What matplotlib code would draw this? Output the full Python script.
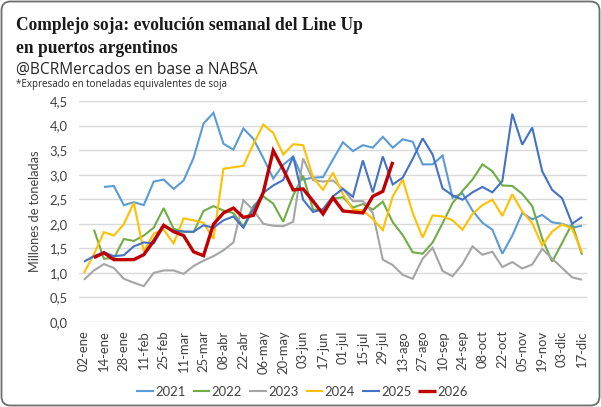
import numpy as np
import matplotlib
matplotlib.use("Agg")
import matplotlib.pyplot as plt
from matplotlib.patches import FancyBboxPatch
from matplotlib.transforms import IdentityTransform

nan = np.nan

categories = ["02-ene", "07-ene", "14-ene", "21-ene", "28-ene", "04-feb", "11-feb", "18-feb",
              "25-feb", "04-mar", "11-mar", "18-mar", "25-mar", "01-abr", "08-abr", "15-abr",
              "22-abr", "29-abr", "06-may", "13-may", "20-may", "27-may", "03-jun", "10-jun",
              "17-jun", "24-jun", "01-jul", "08-jul", "15-jul", "22-jul", "29-jul", "05-ago",
              "13-ago", "20-ago", "27-ago", "03-sep", "10-sep", "17-sep", "24-sep", "01-oct",
              "08-oct", "15-oct", "22-oct", "29-oct", "05-nov", "12-nov", "19-nov", "26-nov",
              "03-dic", "10-dic", "17-dic"]

y2021 = [nan, nan, 2.75, 2.77, 2.38, 2.44, 2.38, 2.86, 2.90, 2.71, 2.88, 3.34, 4.04, 4.26,
         3.63, 3.51, 3.94, 3.73, 3.34, 2.92, 3.20, 3.37, 2.90, 2.94, 2.95, 3.31, 3.66, 3.48,
         3.60, 3.55, 3.77, 3.55, 3.72, 3.67, 3.21, 3.21, 3.39, 2.53, 2.62, 2.27, 2.02, 1.88,
         1.39, 1.76, 2.22, 2.09, 2.18, 2.03, 2.00, 1.92, 1.96]
y2022 = [nan, 1.88, 1.29, 1.30, 1.69, 1.65, 1.76, 1.92, 2.32, 1.90, 1.84, 1.83, 2.26, 2.36,
         2.27, 2.22, 1.94, 2.36, 2.56, 2.41, 2.04, 2.58, 2.98, 2.29, 2.27, 2.51, 2.54, 2.33,
         2.40, 2.29, 2.45, 2.03, 1.77, 1.42, 1.39, 1.62, 2.01, 2.42, 2.67, 2.90, 3.21, 3.07,
         2.78, 2.77, 2.61, 2.36, 1.70, 1.23, 1.61, 2.00, 1.37]
y2023 = [0.86, 1.05, 1.18, 1.10, 0.88, 0.80, 0.73, 1.00, 1.05, 1.05, 0.98, 1.14, 1.25, 1.34,
         1.46, 1.62, 2.48, 2.28, 2.00, 1.96, 1.95, 2.04, 3.33, 2.89, 2.86, 2.88, 2.71, 2.46,
         2.46, 2.22, 1.27, 1.16, 0.96, 0.88, 1.29, 1.51, 1.04, 0.93, 1.18, 1.54, 1.37, 1.43,
         1.12, 1.22, 1.09, 1.17, 1.49, 1.29, 1.10, 0.91, 0.86]
y2024 = [1.00, 1.38, 1.83, 1.76, 1.99, 2.43, 1.44, 1.80, 1.88, 1.60, 2.11, 2.07, 2.02, 1.69,
         3.12, 3.15, 3.18, 3.62, 4.02, 3.85, 3.41, 3.62, 3.60, 2.94, 2.69, 3.04, 2.60, 2.29,
         2.27, 2.10, 1.87, 2.56, 2.90, 2.22, 1.72, 2.17, 2.15, 2.07, 1.88, 2.20, 2.38, 2.49,
         2.16, 2.60, 2.25, 2.01, 1.56, 1.84, 1.99, 1.90, 1.42]
y2025 = [1.23, 1.34, 1.42, 1.34, 1.36, 1.54, 1.62, 1.60, 1.95, 1.86, 1.84, 1.84, 1.97, 1.92,
         2.07, 2.15, 1.92, 2.30, 2.63, 2.78, 2.89, 3.37, 2.49, 2.24, 2.30, 2.56, 2.71, 2.55,
         3.29, 2.64, 3.37, 2.80, 2.94, 3.32, 3.74, 3.41, 2.72, 2.58, 2.49, 2.64, 2.75, 2.64,
         2.87, 4.24, 3.61, 3.96, 3.07, 2.69, 2.52, 2.00, 2.14]
y2026 = [nan, 1.31, 1.41, 1.27, 1.27, 1.27, 1.37, 1.65, 1.97, 1.84, 1.76, 1.43, 1.35, 1.99,
         2.22, 2.32, 2.13, 2.17, 2.64, 3.49, 3.11, 2.69, 2.71, 2.46, 2.20, 2.53, 2.26, 2.24,
         2.22, 2.56, 2.66, 3.26]

series_names = ["2021", "2022", "2023", "2024", "2025", "2026"]
series_values = [y2021, y2022, y2023, y2024, y2025, y2026]
series_colors = ["#5B9BD5", "#70AD47", "#A5A5A5", "#FFC000", "#4472C4", "#C00000"]
series_widths = [1.5, 1.5, 1.5, 1.5, 1.5, 2.4]

yticks = [0.0, 0.5, 1.0, 1.5, 2.0, 2.5, 3.0, 3.5, 4.0, 4.5]

W, H = 601, 407
fig = plt.figure(figsize=(W / 100, H / 100), dpi=100)
fig.patch.set_facecolor("white")


def fx(x):
    return x / W


def fy(y):
    return 1 - y / H


ax = fig.add_axes([fx(79), fy(322), fx(587) - fx(79), fy(101) - fy(322)])
for name, vals, col, lw in zip(series_names, series_values, series_colors, series_widths):
    ax.plot(range(len(vals)), vals, color=col, lw=lw, label=name,
            solid_joinstyle="miter", solid_capstyle="butt")

ax.set_xlim(-0.5, len(categories) - 0.5)
ax.set_ylim(0, 4.5)
ax.set_yticks(yticks)
ax.set_yticklabels([f"{v:.1f}".replace(".", ",") for v in yticks])
ax.set_xticks(range(0, len(categories), 2))
ax.set_xticklabels(categories[::2], rotation=90)
ax.tick_params(axis="y", length=0, pad=8, labelsize=9.4, labelcolor="#404040")
ax.tick_params(axis="x", length=0, pad=6, labelsize=9.4, labelcolor="#404040")
for lab in ax.get_xticklabels() + ax.get_yticklabels():
    lab.set_family("Lato")
ax.yaxis.grid(True, color="#D9D9D9", lw=1.0)
ax.set_axisbelow(True)
for s in ax.spines.values():
    s.set_visible(False)

fig.text(fx(35), fy(211.5), "Millones de toneladas", rotation=90, ha="center", va="center",
         fontsize=9.2, color="#404040", family="Lato")

handles, labels = ax.get_legend_handles_labels()
fig.legend(handles, labels, loc="center", bbox_to_anchor=(fx(302), fy(392)), ncol=6,
           frameon=False, prop={"family": "Lato", "size": 9.4}, handlelength=1.35,
           handletextpad=0.1, columnspacing=0.55, labelcolor="#404040")

renderer = fig.canvas.get_renderer()


def fit_text(x, y, s, target_w, size, **kw):
    t = fig.text(fx(x), fy(y), s, fontsize=size, va="baseline", ha="left", **kw)
    w = t.get_window_extent(renderer).width
    t.set_fontsize(size * target_w / w)
    return t


t1 = fit_text(16, 30, "Complejo soja: evolución semanal del Line Up", 347, 11,
              family="Liberation Serif", weight="bold", color="#1A1A1A")
fig.text(fx(16), fy(53), "en puertos argentinos", fontsize=t1.get_fontsize(), va="baseline",
         ha="left", family="Liberation Serif", weight="bold", color="#1A1A1A")
fit_text(16, 74, "@BCRMercados en base a NABSA", 242, 11, family="Open Sans", color="#262626")
fit_text(16, 87, "*Expresado en toneladas equivalentes de soja", 213, 7, family="Open Sans",
         color="#262626")

border = FancyBboxPatch((1.5, 1.5), W - 3, H - 3, boxstyle="round,pad=0,rounding_size=9",
                        transform=IdentityTransform(), fill=False, ec="#6E6E6E", lw=1.3)
fig.patches.append(border)

fig.savefig("out.png", dpi=100)
